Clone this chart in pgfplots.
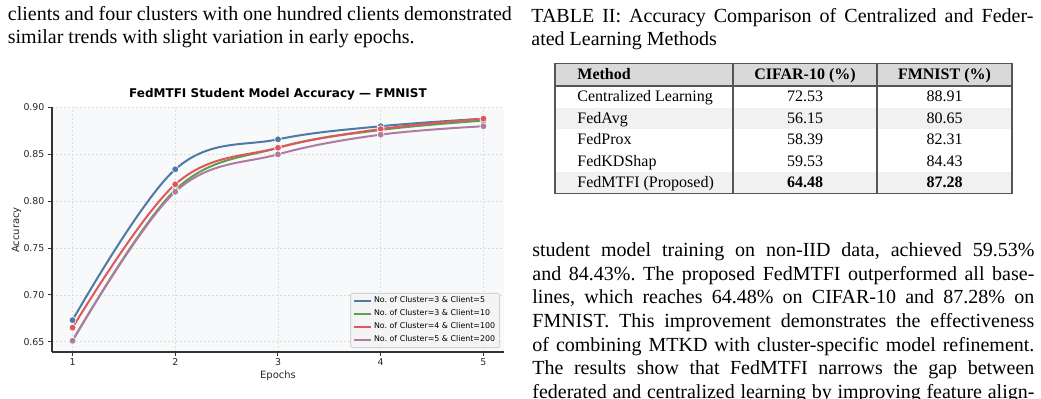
\documentclass[border=0pt]{standalone}
\usepackage{fontspec}
\setmainfont{Liberation Serif}
\newfontfamily\dejavu{DejaVu Sans}
\usepackage{pgfplots}
\pgfplotsset{compat=1.18}
\frenchspacing
\definecolor{cblue}{HTML}{4E79A7}
\definecolor{cgreen}{HTML}{59A14F}
\definecolor{cred}{HTML}{E15759}
\definecolor{cpurple}{HTML}{B07AA1}
\definecolor{bgax}{HTML}{F8F9FB}
\definecolor{gridc}{HTML}{DDDDDD}
\definecolor{spine}{HTML}{333333}
\definecolor{hdr}{HTML}{D9D9D9}
\definecolor{rowg}{HTML}{F1F1F1}
\definecolor{tborder}{HTML}{555555}
\definecolor{legbg}{HTML}{F4F4F4}
\begin{document}
\begin{tikzpicture}
\useasboundingbox (0pt,0pt) rectangle (520.5pt,-199pt);
\begin{axis}[
  at={(26pt,-176pt)}, anchor=south west,
  scale only axis, width=226pt, height=122.5pt,
  xmin=0.8, xmax=5.2, ymin=0.639, ymax=0.9005,
  xtick={1,2,3,4,5}, ytick={0.65,0.7,0.75,0.8,0.85,0.9},
  yticklabel style={xshift=1.5pt, /pgf/number format/.cd, fixed, fixed zerofill, precision=2},
  xticklabel style={yshift=2pt},
  /pgf/number format/assume math mode=true,
  tick label style={font=\dejavu\fontsize{4.7}{5.5}\selectfont, text=black!85},
  axis lines*=left, axis line style={-, draw=spine, line width=0.6pt},
  tick align=outside, major tick length=1.75pt, tick style={draw=spine, line width=0.5pt},
  grid=major, grid style={draw=gridc, line width=0.3pt, dash pattern=on 1.2pt off 0.8pt},
  axis background/.style={fill=bgax},
  legend style={at={(1,0)}, anchor=south east, xshift=-2pt, yshift=2pt,
    font=\dejavu\fontsize{3.95}{4.5}\selectfont, fill=legbg, draw=gray!35,
    rounded corners=1pt, inner xsep=1.2pt, inner ysep=1.2pt, row sep=0.9pt,
    nodes={inner ysep=0.5pt, inner xsep=1pt}, cells={anchor=west}},
  legend image code/.code={\draw[#1, mark=none] (0pt,0pt) -- (8.5pt,0pt);},
  every axis plot/.append style={line width=1pt, smooth, tension=0.6, mark=*, mark size=1.7pt},
]
\addplot[cblue, mark options={fill=cblue, draw=white, line width=0.3pt}]
  coordinates {(1,0.673)(2,0.834)(3,0.866)(4,0.880)(5,0.888)};
\addlegendentry{No. of Cluster=3 \& Client=5}
\addplot[cgreen, mark options={fill=cgreen, draw=white, line width=0.3pt}]
  coordinates {(1,0.651)(2,0.812)(3,0.857)(4,0.876)(5,0.886)};
\addlegendentry{No. of Cluster=3 \& Client=10}
\addplot[cred, mark options={fill=cred, draw=white, line width=0.3pt}]
  coordinates {(1,0.665)(2,0.818)(3,0.857)(4,0.877)(5,0.888)};
\addlegendentry{No. of Cluster=4 \& Client=100}
\addplot[cpurple, mark options={fill=cpurple, draw=white, line width=0.3pt}]
  coordinates {(1,0.651)(2,0.810)(3,0.850)(4,0.871)(5,0.880)};
\addlegendentry{No. of Cluster=5 \& Client=200}
\end{axis}
\begin{scope}[x=0.5pt, y=-0.5pt, every node/.style={inner sep=0pt, font=\fontsize{10}{12}\selectfont}]
% chart title and labels
\node[anchor=base, font=\dejavu\bfseries\fontsize{6}{7}\selectfont] at (278,97.3) {FedMTFI Student Model Accuracy — FMNIST};
\node[anchor=base, font=\dejavu\fontsize{5}{6}\selectfont, text=black!85] at (278,378) {Epochs};
\node[anchor=center, rotate=90, font=\dejavu\fontsize{5}{6}\selectfont, text=black!85] at (16.5,230) {Accuracy};
% left column text
\node[anchor=base west] at (7.5,20) {\makebox[252pt][s]{clients and four clusters with one hundred clients demonstrated}};
\node[anchor=base west] at (7.5,43.3) {similar trends with slight variation in early epochs.};
% caption
\node[anchor=base west] at (531,22.7) {\makebox[251pt][s]{TABLE II: Accuracy Comparison of Centralized and Feder-}};
\node[anchor=base west] at (531,45.3) {ated Learning Methods};
% table
\fill[hdr] (555,63.5) rectangle (1012,86);
\fill[rowg] (555,107.5) rectangle (1012,129);
\fill[rowg] (555,172) rectangle (1012,193.5);
\draw[tborder, line width=0.55pt] (555,63.5) rectangle (1012,193.5);
\draw[tborder, line width=0.55pt] (555,86) -- (1012,86);
\draw[tborder, line width=0.55pt] (733,63.5) -- (733,193.5);
\draw[tborder, line width=0.55pt] (877,63.5) -- (877,193.5);
\begin{scope}[every node/.style={inner sep=0pt, font=\fontsize{8}{9.5}\selectfont}]
\node[anchor=base west] at (577,79) {\textbf{Method}};
\node[anchor=base] at (805,79) {\textbf{CIFAR-10 (\%)}};
\node[anchor=base] at (944.5,79) {\textbf{FMNIST (\%)}};
\node[anchor=base west] at (577,101.7) {Centralized Learning};
\node[anchor=base] at (805,101.7) {72.53};
\node[anchor=base] at (944.5,101.7) {88.91};
\node[anchor=base west] at (577,123.3) {FedAvg};
\node[anchor=base] at (805,123.3) {56.15};
\node[anchor=base] at (944.5,123.3) {80.65};
\node[anchor=base west] at (577,144.7) {FedProx};
\node[anchor=base] at (805,144.7) {58.39};
\node[anchor=base] at (944.5,144.7) {82.31};
\node[anchor=base west] at (577,166) {FedKDShap};
\node[anchor=base] at (805,166) {59.53};
\node[anchor=base] at (944.5,166) {84.43};
\node[anchor=base west] at (577,187.5) {FedMTFI (Proposed)};
\node[anchor=base] at (805,187.5) {\textbf{64.48}};
\node[anchor=base] at (944.5,187.5) {\textbf{87.28}};
\end{scope}
% right paragraph
\node[anchor=base west] at (532,256.3) {\makebox[251pt][s]{student model training on non-IID data, achieved 59.53\%}};
\node[anchor=base west] at (532,280) {\makebox[251pt][s]{and 84.43\%. The proposed FedMTFI outperformed all base-}};
\node[anchor=base west] at (532,303.7) {\makebox[251pt][s]{lines, which reaches 64.48\% on CIFAR-10 and 87.28\% on}};
\node[anchor=base west] at (532,327.4) {\makebox[251pt][s]{FMNIST. This improvement demonstrates the effectiveness}};
\node[anchor=base west] at (532,351.1) {\makebox[251pt][s]{of combining MTKD with cluster-specific model refinement.}};
\node[anchor=base west] at (532,374.8) {\makebox[251pt][s]{The results show that FedMTFI narrows the gap between}};
\node[anchor=base west] at (532,398.5) {\makebox[251pt][s]{federated and centralized learning by improving feature align-}};
\end{scope}
\end{tikzpicture}
\end{document}
